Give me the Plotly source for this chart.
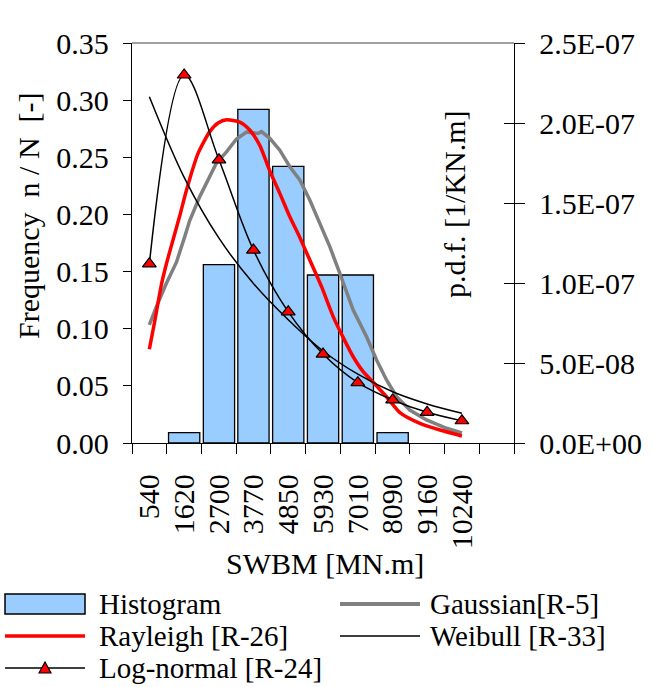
import plotly.graph_objects as go

# ---------------- data ----------------
swbm_labels = [540, 1620, 2700, 3770, 4850, 5930, 7010, 8090, 9160, 10240]
histogram = [None, 0.009, 0.156, 0.292, 0.242, 0.147, 0.147, 0.009, None, None]

lognormal_pdf = [1.12e-7, 2.30e-7, 1.77e-7, 1.206e-7, 8.2e-8, 5.56e-8, 3.77e-8, 2.69e-8, 1.92e-8, 1.39e-8]
weibull_pdf = [2.164e-7, 1.66e-7, 1.28e-7, 9.97e-8, 7.7e-8, 5.75e-8, 4.3e-8, 3.2e-8, 2.44e-8, 1.86e-8]

gauss_x = [540, 759, 1069, 1381, 1638, 1793, 2104, 2414, 2622, 2933, 3244, 3555, 3915, 4020,
           4278, 4588, 4899, 5209, 5519, 5830, 6140, 6451, 6866, 7281, 7592, 7901, 8214,
           8623, 9141, 9766, 10240]
gauss_pdf = [7.38e-8, 8.52e-8, 9.98e-8, 1.13e-7, 1.29e-7, 1.39e-7, 1.54e-7, 1.67e-7, 1.75e-7,
             1.82e-7, 1.90e-7, 1.944e-7, 1.935e-7, 1.946e-7, 1.904e-7, 1.83e-7, 1.727e-7,
             1.644e-7, 1.519e-7, 1.373e-7, 1.227e-7, 1.06e-7, 8.31e-8, 6.64e-8, 5.19e-8,
             3.94e-8, 2.89e-8, 2.06e-8, 1.44e-8, 9.2e-9, 6.25e-9]

rayleigh_x = [540, 706, 914, 1069, 1275, 1483, 1691, 2051, 2414, 2672, 2933, 3346, 3655, 3967,
              4278, 4588, 4899, 5209, 5519, 5884, 6245, 6554, 6866, 7176, 7486, 7901, 8316,
              8936, 9559, 10240]
rayleigh_pdf = [5.86e-8, 7.6e-8, 9.9e-8, 1.12e-7, 1.27e-7, 1.42e-7, 1.58e-7, 1.81e-7, 1.946e-7,
                2.0e-7, 2.02e-7, 2.006e-7, 1.956e-7, 1.86e-7, 1.70e-7, 1.56e-7, 1.414e-7,
                1.285e-7, 1.144e-7, 9.77e-8, 7.9e-8, 6.6e-8, 5.39e-8, 4.46e-8, 3.8e-8,
                2.89e-8, 1.9e-8, 1.23e-8, 8.1e-9, 4.4e-9]

freq_ticks = [0.0, 0.05, 0.10, 0.15, 0.20, 0.25, 0.30, 0.35]
pdf_ticks = [0.0, 5e-8, 1e-7, 1.5e-7, 2e-7, 2.5e-7]
pdf_tick_text = ["0.0E+00", "5.0E-08", "1.0E-07", "1.5E-07", "2.0E-07", "2.5E-07"]

# ---------------- layout helpers ----------------
W, H = 654, 687
ML, MR, MT, MB = 132, 140, 43, 244
PW, PH = W - ML - MR, H - MT - MB
FONT = "Liberation Serif, Times New Roman, serif"


def px(x):
    return (x - ML) / PW


def py(y):
    return (MT + PH - y) / PH


step = (swbm_labels[-1] - swbm_labels[0]) / (len(swbm_labels) - 1)
x_range = [swbm_labels[0] - step / 2, swbm_labels[-1] + 1.5 * step]
boundaries = [swbm_labels[0] - step / 2 + i * step for i in range(12)]

fig = go.Figure()

fig.add_trace(go.Bar(
    x=swbm_labels, y=histogram, width=0.9 * step,
    marker=dict(color="#99CCFF", line=dict(color="black", width=1.3)),
    name="Histogram", yaxis="y", showlegend=False))

fig.add_trace(go.Scatter(
    x=gauss_x, y=gauss_pdf, mode="lines", yaxis="y2",
    line=dict(color="#808080", width=3.5), name="Gaussian[R-5]", showlegend=False))

fig.add_trace(go.Scatter(
    x=rayleigh_x, y=rayleigh_pdf, mode="lines", yaxis="y2",
    line=dict(color="#FF0000", width=3.5, shape="spline", smoothing=0.6),
    name="Rayleigh [R-26]", showlegend=False))

fig.add_trace(go.Scatter(
    x=swbm_labels, y=weibull_pdf, mode="lines", yaxis="y2",
    line=dict(color="black", width=1.5, shape="spline"), name="Weibull [R-33]", showlegend=False))

fig.add_trace(go.Scatter(
    x=swbm_labels, y=lognormal_pdf, mode="lines+markers", yaxis="y2",
    line=dict(color="black", width=1.5, shape="spline"),
    marker=dict(symbol="triangle-up", size=12, color="#FF0000", line=dict(color="black", width=1.2)),
    name="Log-normal [R-24]", showlegend=False))

tickfont = dict(family=FONT, size=30, color="black")

fig.update_layout(
    width=W, height=H,
    margin=dict(l=ML, r=MR, t=MT, b=MB, pad=0),
    paper_bgcolor="white", plot_bgcolor="white",
    font=dict(family=FONT, size=30, color="black"),
    bargap=0.1,
    showlegend=False,
    xaxis=dict(
        range=x_range, tickmode="array", tickvals=swbm_labels,
        ticktext=[str(v) for v in swbm_labels], tickangle=-90, ticks="",
        tickfont=tickfont, showgrid=False, zeroline=False,
        showline=True, linecolor="black", linewidth=1.3,
        ticklabelstandoff=18,
        minor=dict(tickmode="array", tickvals=boundaries, ticks="outside",
                   ticklen=10, tickcolor="black", tickwidth=1, showgrid=False)),
    yaxis=dict(
        range=[0, 0.35], tickmode="array", tickvals=freq_ticks, tickformat=".2f",
        ticks="outside", ticklen=8, tickcolor="black", tickwidth=1,
        tickfont=tickfont, showgrid=False, zeroline=False,
        showline=True, linecolor="black", linewidth=1.3, ticklabelstandoff=8),
    yaxis2=dict(
        range=[0, 2.5e-7], tickmode="array", tickvals=pdf_ticks, ticktext=pdf_tick_text,
        overlaying="y", side="right", anchor="x",
        ticks="outside", ticklen=10, tickcolor="black", tickwidth=1,
        tickfont=tickfont, showgrid=False, zeroline=False,
        showline=True, linecolor="black", linewidth=1.3, ticklabelstandoff=8),
    yaxis3=dict(
        range=[0, 2.5e-7], tickmode="array", tickvals=pdf_ticks,
        overlaying="y", side="right", anchor="x",
        ticks="inside", ticklen=10, tickcolor="black", tickwidth=1,
        showticklabels=False, showgrid=False, zeroline=False, showline=False),
)

# empty trace so the inner tick set of the right axis is drawn
fig.add_trace(go.Scatter(x=[None], y=[None], yaxis="y3", showlegend=False, hoverinfo="skip"))

shapes = [
    dict(type="line", xref="paper", yref="paper", x0=0, x1=1, y0=1, y1=1,
         line=dict(color="#808080", width=1.5)),
]
annotations = [
    dict(text="SWBM [MN.m]", x=px(325), y=py(563), xref="paper", yref="paper",
         xanchor="center", yanchor="middle", showarrow=False, font=dict(family=FONT, size=30)),
    dict(text="Frequency\u00a0 n / N\u00a0 [-]", x=px(28), y=py(216), xref="paper", yref="paper",
         xanchor="center", yanchor="middle", textangle=-90, showarrow=False,
         font=dict(family=FONT, size=30)),
    dict(text="p.d.f. [1/KN.m]", x=px(454), y=py(205), xref="paper", yref="paper",
         xanchor="center", yanchor="middle", textangle=-90, showarrow=False,
         font=dict(family=FONT, size=30)),
]

# ---------------- manual legend ----------------
legend_items = [
    ("Histogram", "bar", 5, 604),
    ("Gaussian[R-5]", "gauss", 340, 604),
    ("Rayleigh [R-26]", "ray", 5, 636),
    ("Weibull [R-33]", "weib", 340, 636),
    ("Log-normal [R-24]", "logn", 5, 668),
]
for label, kind, x0, yc in legend_items:
    x1 = x0 + 80
    if kind == "bar":
        shapes.append(dict(type="rect", xref="paper", yref="paper",
                           x0=px(x0), x1=px(x1), y0=py(yc + 10), y1=py(yc - 10),
                           fillcolor="#99CCFF", line=dict(color="black", width=1.5)))
    else:
        col, wid = {"gauss": ("#808080", 4), "ray": ("#FF0000", 3.5),
                    "weib": ("black", 1.5), "logn": ("black", 1.5)}[kind]
        shapes.append(dict(type="line", xref="paper", yref="paper",
                           x0=px(x0), x1=px(x1), y0=py(yc), y1=py(yc),
                           line=dict(color=col, width=wid)))
        if kind == "logn":
            cx = (x0 + x1) / 2
            path = "M {} {} L {} {} L {} {} Z".format(
                px(cx - 6), py(yc + 5), px(cx), py(yc - 6), px(cx + 6), py(yc + 5))
            shapes.append(dict(type="path", xref="paper", yref="paper", path=path,
                               fillcolor="#FF0000", line=dict(color="black", width=1.2)))
    annotations.append(dict(text=label, x=px(x1 + 12 if x0 == 5 else x1 + 8), y=py(yc),
                            xref="paper", yref="paper", xanchor="left", yanchor="middle",
                            showarrow=False, font=dict(family=FONT, size=29)))

fig.update_layout(shapes=shapes, annotations=annotations)
fig.write_html("out.html")
